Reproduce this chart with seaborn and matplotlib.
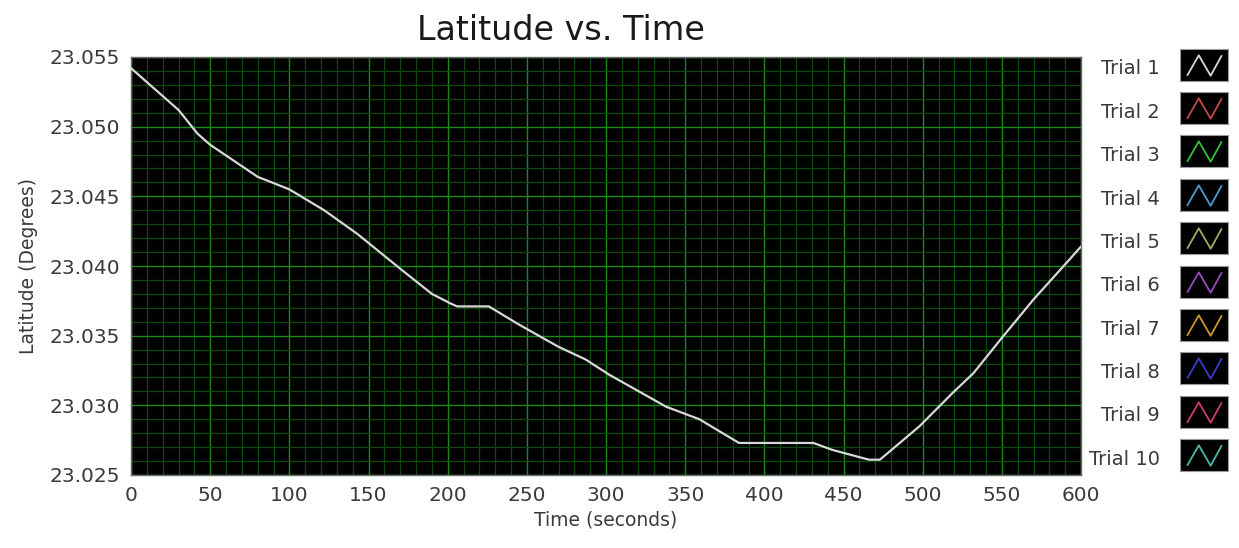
import numpy as np
import pandas as pd
import matplotlib
matplotlib.use("Agg")
import matplotlib.pyplot as plt
from matplotlib.lines import Line2D
from matplotlib.path import Path
from matplotlib.legend_handler import HandlerTuple
from matplotlib.ticker import MultipleLocator
import seaborn as sns

# ---- data ----
time_s = [0, 30, 42, 50, 80, 100, 122, 143, 169, 190, 202, 206, 226, 245, 270,
          287, 302, 338, 359, 384, 431, 443, 466, 473, 498, 519, 532, 549, 570,
          593, 600]
latitude = [23.0542, 23.0512, 23.0495, 23.0487, 23.0464, 23.0455, 23.0440,
            23.0423, 23.0399, 23.0380, 23.0373, 23.0371, 23.0371, 23.0358,
            23.0342, 23.0333, 23.0322, 23.0299, 23.0290, 23.0273, 23.0273,
            23.0268, 23.0261, 23.0261, 23.0285, 23.0309, 23.0323, 23.0347,
            23.0376, 23.0405, 23.0414]
trial_names = ["Trial 1", "Trial 2", "Trial 3", "Trial 4", "Trial 5",
               "Trial 6", "Trial 7", "Trial 8", "Trial 9", "Trial 10"]
trial_colors = ["#d8d8d8", "#c44a44", "#2fc43a", "#4f9bc8", "#a8a86a",
                "#9a4cc0", "#c89a2a", "#3c3ccc", "#cc3c7a", "#4cb8a8"]
x_ticks = [0, 50, 100, 150, 200, 250, 300, 350, 400, 450, 500, 550, 600]
y_ticks = [23.025, 23.030, 23.035, 23.040, 23.045, 23.050, 23.055]

df = pd.DataFrame({"Time (seconds)": time_s, "Latitude (Degrees)": latitude})

sns.set_style("white")
plt.rcParams["font.family"] = ["DejaVu Sans"]

fig = plt.figure(figsize=(12.39, 5.48), dpi=100)
ax = fig.add_axes([131 / 1239, 1 - 475 / 548, 950 / 1239, 418 / 548])
ax.set_facecolor("black")

sns.lineplot(data=df, x="Time (seconds)", y="Latitude (Degrees)", ax=ax,
             color=trial_colors[0], linewidth=1.6, legend=False, zorder=5)

ax.set_xlim(0, 600)
ax.set_ylim(23.025, 23.055)
ax.set_xticks(x_ticks)
ax.set_yticks(y_ticks)
ax.set_xticklabels([str(v) for v in x_ticks])
ax.set_yticklabels([f"{v:.3f}" for v in y_ticks])
ax.xaxis.set_minor_locator(MultipleLocator(10))
ax.yaxis.set_minor_locator(MultipleLocator(0.001))

ax.grid(which="minor", color="#0c4a0c", linewidth=0.9, zorder=1)
ax.grid(which="major", color="#1a8a1a", linewidth=1.0, zorder=2)
ax.set_axisbelow(True)

ax.tick_params(which="major", direction="out", length=5, width=1,
               color="#707070", labelsize=14.5, labelcolor="#3a3a3a", pad=3)
ax.tick_params(which="minor", length=0)
for sp in ax.spines.values():
    sp.set_color("#6a6a6a")
    sp.set_linewidth(1.0)

ax.set_xlabel("Time (seconds)", fontsize=13.5, color="#3a3a3a", labelpad=4)
ax.set_ylabel("Latitude (Degrees)", fontsize=13.5, color="#3a3a3a", labelpad=8)

fig.text(561 / 1239, 1 - 31 / 548, "Latitude vs. Time", ha="center",
         va="center", fontsize=24, color="#1a1a1a")

# ---- legend: black swatch with zigzag per trial ----
box_path = Path([(-1, -0.69), (1, -0.69), (1, 0.69), (-1, 0.69), (-1, -0.69)],
                [Path.MOVETO, Path.LINETO, Path.LINETO, Path.LINETO,
                 Path.CLOSEPOLY])
zig_path = Path([(-0.85, -0.5), (-0.28, 0.5), (0.3, -0.5), (0.85, 0.5)],
                [Path.MOVETO, Path.LINETO, Path.LINETO, Path.LINETO])
handles = []
for c in trial_colors:
    box = Line2D([], [], linestyle="None", marker=box_path, markersize=34,
                 markerfacecolor="black", markeredgecolor="#9a9a9a",
                 markeredgewidth=0.8)
    zig = Line2D([], [], linestyle="None", marker=zig_path, markersize=25,
                 markerfacecolor="none", markeredgecolor=c,
                 markeredgewidth=1.3)
    handles.append((box, zig))

leg = fig.legend(handles, trial_names, loc="upper left",
                 bbox_to_anchor=(1089 / 1239, 1 - 55 / 548),
                 handler_map={tuple: HandlerTuple(ndivide=1)},
                 markerfirst=False, frameon=False, fontsize=14,
                 handlelength=2.5, handleheight=1.7, labelspacing=0.88,
                 handletextpad=1.0, borderpad=0, borderaxespad=0)
for t in leg.get_texts():
    t.set_color("#3a3a3a")

fig.savefig("out.png", dpi=100, facecolor="white")
